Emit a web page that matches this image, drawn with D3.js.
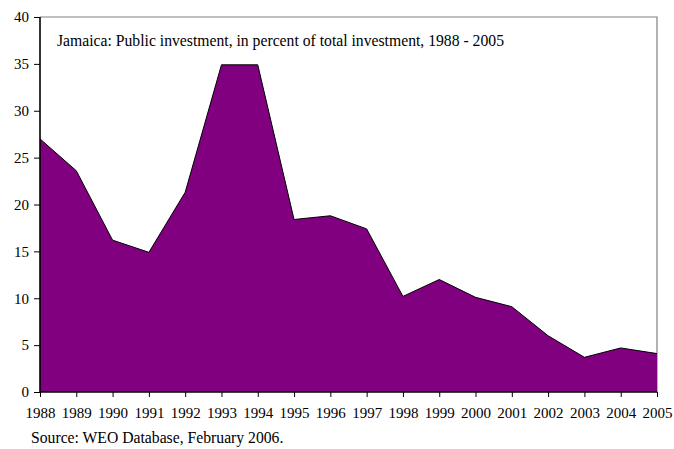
<!DOCTYPE html>
<html>
<head>
<meta charset="utf-8">
<script src="https://cdn.jsdelivr.net/npm/d3@7"></script>
<style>
  body { margin: 0; background: #fff; }
  svg text { font-family: 'Liberation Serif', 'Times New Roman', Times, 'DejaVu Serif', serif !important; fill: #000; }
</style>
</head>
<body>
<script>
  let years = [1988,1989,1990,1991,1992,1993,1994,1995,1996,1997,1998,1999,2000,2001,2002,2003,2004,2005];
  let values = [27.0,23.6,16.2,14.9,21.3,34.9,34.9,18.4,18.8,17.4,10.2,12.0,10.1,9.1,6.0,3.7,4.7,4.1];
  let yTicks = [0,5,10,15,20,25,30,35,40];
  let title = "Jamaica: Public investment, in percent of total investment, 1988 - 2005";
  let source = "Source: WEO Database, February 2006.";

  let width = 674;
  let height = 449;
  let padL = 40, padR = 657, padT = 17, padB = 392;

  let x = d3.scaleLinear([years[0], years[years.length-1]], [padL, padR]);
  let y = d3.scaleLinear([0, 40], [padB, padT]);

  let data = years.map((yr, i) => [yr, values[i]]);

  let svg = d3.select("body").append("svg")
    .attr("width", width)
    .attr("height", height);

  // frame (top + right, grey)
  svg.append("path")
    .attr("d", `M${padL},${padT}H${padR}V${padB}`)
    .attr("fill", "none")
    .attr("stroke", "#808080")
    .attr("stroke-width", 1.2);

  let area = d3.area()
    .x(d => x(d[0]))
    .y0(y(0))
    .y1(d => y(d[1]));

  svg.append("path")
    .datum(data)
    .attr("d", area)
    .attr("fill", "#800080");

  svg.append("path")
    .datum(data)
    .attr("d", d3.line().x(d => x(d[0])).y(d => y(d[1])))
    .attr("fill", "none")
    .attr("stroke", "#000")
    .attr("stroke-width", 1);

  let xAxis = svg.append("g")
    .attr("transform", "translate(0," + padB + ")")
    .call(d3.axisBottom(x).tickValues(years).tickFormat(d3.format("d")).tickSize(5).tickPadding(10));

  let yAxis = svg.append("g")
    .attr("transform", "translate(" + padL + ",0)")
    .call(d3.axisLeft(y).tickValues(yTicks).tickSize(6).tickPadding(5));

  [xAxis, yAxis].forEach(g => {
    g.attr("font-family", null).attr("font-size", null);
    g.select(".domain").attr("stroke", "#000").attr("stroke-width", 1.6);
    g.selectAll(".tick line").attr("stroke", "#000");
    g.selectAll(".tick text")
      .style("font-size", "15px")
      .attr("fill", "#000");
  });
  xAxis.select(".domain").attr("d", `M${padL},0H${padR}`);
  yAxis.select(".domain").attr("d", `M0,${padT}V${padB}`);

  svg.append("text")
    .attr("x", 57)
    .attr("y", 46)
    .style("font-size", "15.7px")
    .text(title);

  svg.append("text")
    .attr("x", 31)
    .attr("y", 443)
    .style("font-size", "15.7px")
    .text(source);
</script>
</body>
</html>
